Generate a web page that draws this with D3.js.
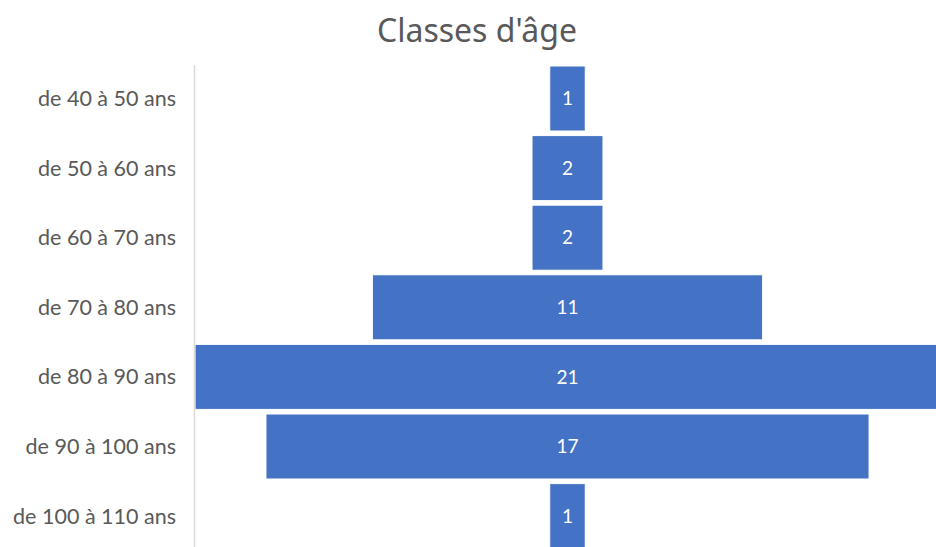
<!DOCTYPE html>
<html><head><meta charset="utf-8">
<script src="https://cdn.jsdelivr.net/npm/d3@7"></script>
<style>body{margin:0;background:#fff;overflow:hidden}svg{display:block}</style>
</head><body>
<script>
const categories = ["de 40 à 50 ans","de 50 à 60 ans","de 60 à 70 ans","de 70 à 80 ans","de 80 à 90 ans","de 90 à 100 ans","de 100 à 110 ans"];
const values = [1,2,2,11,21,17,1];
const title = "Classes d'âge";

const W = 936, H = 547;
const svg = d3.select("body").append("svg").attr("width", W).attr("height", H);

const cx = 567.5;
const x = d3.scaleLinear().domain([0, 21]).range([0, 745]);
const y = d3.scaleBand().domain(categories).range([63.7, 63.7 + 7*69.6]).paddingInner(0.066).paddingOuter(0.033);

svg.append("text").attr("x", 477).attr("y", 42).attr("text-anchor","middle")
  .style("font-family","'Noto Sans', sans-serif").style("font-size","32px").style("fill","#595959").text(title);

svg.selectAll("rect.bar").data(values).join("rect").attr("class","bar")
  .attr("x", d => cx - x(d)/2).attr("width", d => x(d))
  .attr("y", (d,i) => y(categories[i])).attr("height", y.bandwidth())
  .attr("fill","#4472C4").attr("stroke","#fff").attr("stroke-width",1);

svg.append("line").attr("x1",194.5).attr("x2",194.5).attr("y1",65).attr("y2",H)
  .attr("stroke","#d9d9d9").attr("stroke-width",1.5);

svg.selectAll("text.val").data(values).join("text").attr("class","val")
  .attr("x", cx).attr("y", (d,i) => y(categories[i]) + y.bandwidth()/2)
  .attr("dy","0.35em").attr("text-anchor","middle")
  .style("font-family","Lato, sans-serif").style("font-size","19px").style("fill","#fff").text(d => d);

svg.selectAll("text.cat").data(categories).join("text").attr("class","cat")
  .attr("x", 176).attr("y", d => y(d) + y.bandwidth()/2)
  .attr("dy","0.35em").attr("text-anchor","end")
  .style("font-family","Lato, sans-serif").style("font-size","21.5px").style("fill","#595959").text(d => d);
</script>
</body></html>
